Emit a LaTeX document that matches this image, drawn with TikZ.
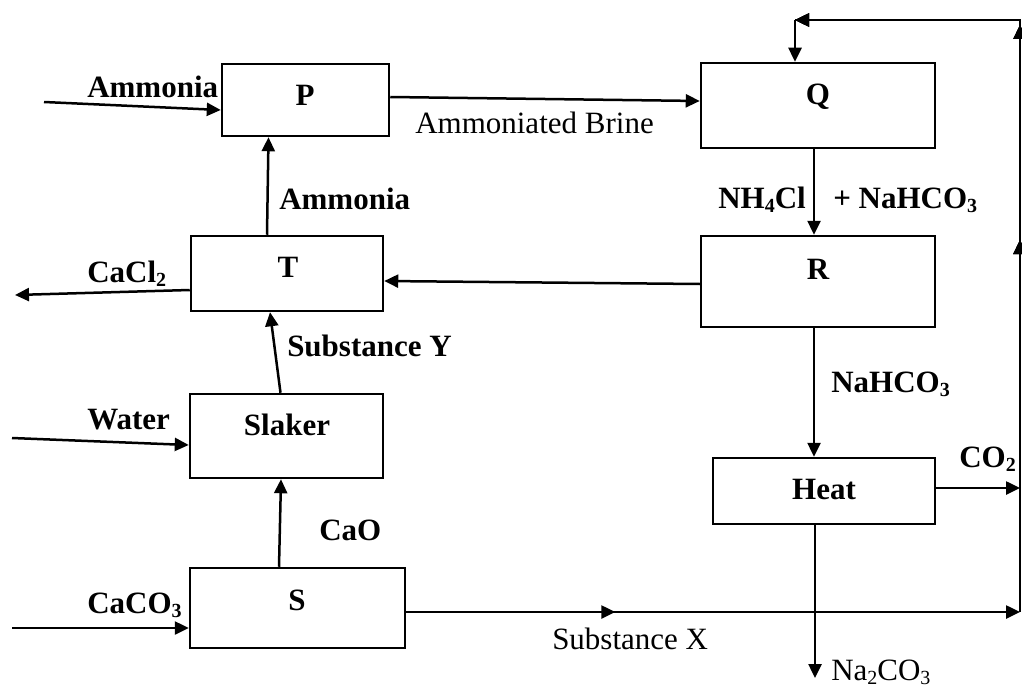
\documentclass[tikz,border=0pt]{standalone}
\usepackage{fontspec}
\setmainfont{Liberation Serif}
\usetikzlibrary{arrows.meta,decorations.markings}
\newcommand\chsub[1]{\raisebox{-0.14em}{\fontsize{20}{20}\selectfont #1}}
\begin{document}
\begin{tikzpicture}[x=1pt,y=-1pt,line width=2.5pt,
  box/.style={draw,line width=2.5pt,inner sep=0pt},
  blbl/.style={font=\fontsize{31}{36}\selectfont\bfseries,inner sep=0pt},
  rlbl/.style={font=\fontsize{31}{36}\selectfont,inner sep=0pt},
  flow/.style={-{Triangle[length=14pt,width=13pt]},line width=2.5pt},
  midarr/.style={decoration={markings,mark=at position #1 with {\arrow{Triangle[length=14pt,width=13pt]}}},postaction={decorate}}]
\useasboundingbox (0,0) rectangle (1022,690);

% boxes
\node[box,minimum width=167pt,minimum height=72pt] (P) at (305.5,100) {};
\node[box,minimum width=234pt,minimum height=85pt] (Q) at (818,105.5) {};
\node[box,minimum width=234pt,minimum height=91pt] (R) at (818,281.5) {};
\node[box,minimum width=192pt,minimum height=75pt] (T) at (287,273.5) {};
\node[box,minimum width=193pt,minimum height=84pt] (SL) at (286.5,436) {};
\node[box,minimum width=215pt,minimum height=80pt] (S) at (297.5,608) {};
\node[box,minimum width=222pt,minimum height=66pt] (H) at (824,491) {};

% box labels
\node[blbl,anchor=base] (Pl) at (305,106) {P};
\node[blbl,anchor=base] (Ql) at (818,105) {Q};
\node[blbl,anchor=base] (Rl) at (818,279) {R};
\node[blbl,anchor=base] (Tl) at (288,277) {T};
\node[blbl,anchor=base] (SLl) at (287,435) {Slaker};
\node[blbl,anchor=base] (Sl) at (297,610) {S};
\node[blbl,anchor=base] (Hl) at (824,499) {Heat};

% free ends
\coordinate (ammin) at (44,102);
\coordinate (cacl) at (15,295);
\coordinate (waterin) at (12,438);
\coordinate (caco3in) at (12,628);
\coordinate (co2out) at (1020,488);
\coordinate (naout) at (815,678);
\coordinate (br) at (1020,612);
\coordinate (tr) at (1020,20);
\coordinate (tl) at (795,20);

% connectors
\draw[flow] (ammin) -- ([yshift=-10pt]P.west);
\draw[flow] ([yshift=3pt]P.east) -- ([yshift=4.5pt]Q.west);
\draw[flow] ([xshift=-20pt]T.north) -- ([xshift=-37pt]P.south);
\draw[flow] ([yshift=-16.5pt]T.west) -- (cacl);
\draw[flow] ([yshift=-2.5pt]R.west) -- ([yshift=-7.5pt]T.east);
\draw[flow] ([xshift=-4pt]Q.south) -- ([xshift=-4pt]R.north);
\draw[flow] ([xshift=-4pt]R.south) -- ([xshift=-10pt]H.north);
\draw[flow] ([yshift=3pt]H.east) -- (co2out);
\draw[flow] ([xshift=-9pt]H.south) -- (naout);
\draw[flow] ([xshift=-6pt]SL.north) -- ([xshift=-17pt]T.south);
\draw[flow] (waterin) -- ([yshift=-9pt]SL.west);
\draw[flow] (caco3in) -- ([yshift=-20pt]S.west);
\draw[flow] ([xshift=-18.5pt]S.north) -- ([xshift=-5.5pt]SL.south);
\draw[flow,midarr=209pt] ([yshift=-4pt]S.east) -- (br);
\draw[midarr=372pt,midarr=587pt,midarr=1] (br) -- (tr) -- (tl);
\draw[flow] (tl) -- ([xshift=-23pt]Q.north);

% labels
\node[blbl,anchor=base west] (l1) at (86,98) {Ammonia};
\node[rlbl,anchor=base west] (l2) at (414,133) {Ammoniated Brine};
\node[blbl,anchor=base west] (l3) at (278,209) {Ammonia};
\node[blbl,anchor=base west] (l4) at (86,282) {CaCl\chsub{2}};
\node[blbl,anchor=base west] (l5) at (286,356) {Substance Y};
\node[blbl,anchor=base west] (l6) at (86,429) {Water};
\node[blbl,anchor=base west] (l7) at (318,540) {CaO};
\node[blbl,anchor=base west] (l8) at (86,613) {CaCO\chsub{3}};
\node[blbl,anchor=base west] (l9) at (717,208) {NH\chsub{4}Cl};
\node[blbl,anchor=base west] (l10) at (832,208) {+ NaHCO\chsub{3}};
\node[blbl,anchor=base west] (l11) at (830,392) {NaHCO\chsub{3}};
\node[blbl,anchor=base west] (l12) at (958,467) {CO\chsub{2}};
\node[rlbl,anchor=base west] (l13) at (551,649) {Substance X};
\node[rlbl,anchor=base west] (l14) at (830,680) {Na\chsub{2}CO\chsub{3}};
\end{tikzpicture}
\end{document}
